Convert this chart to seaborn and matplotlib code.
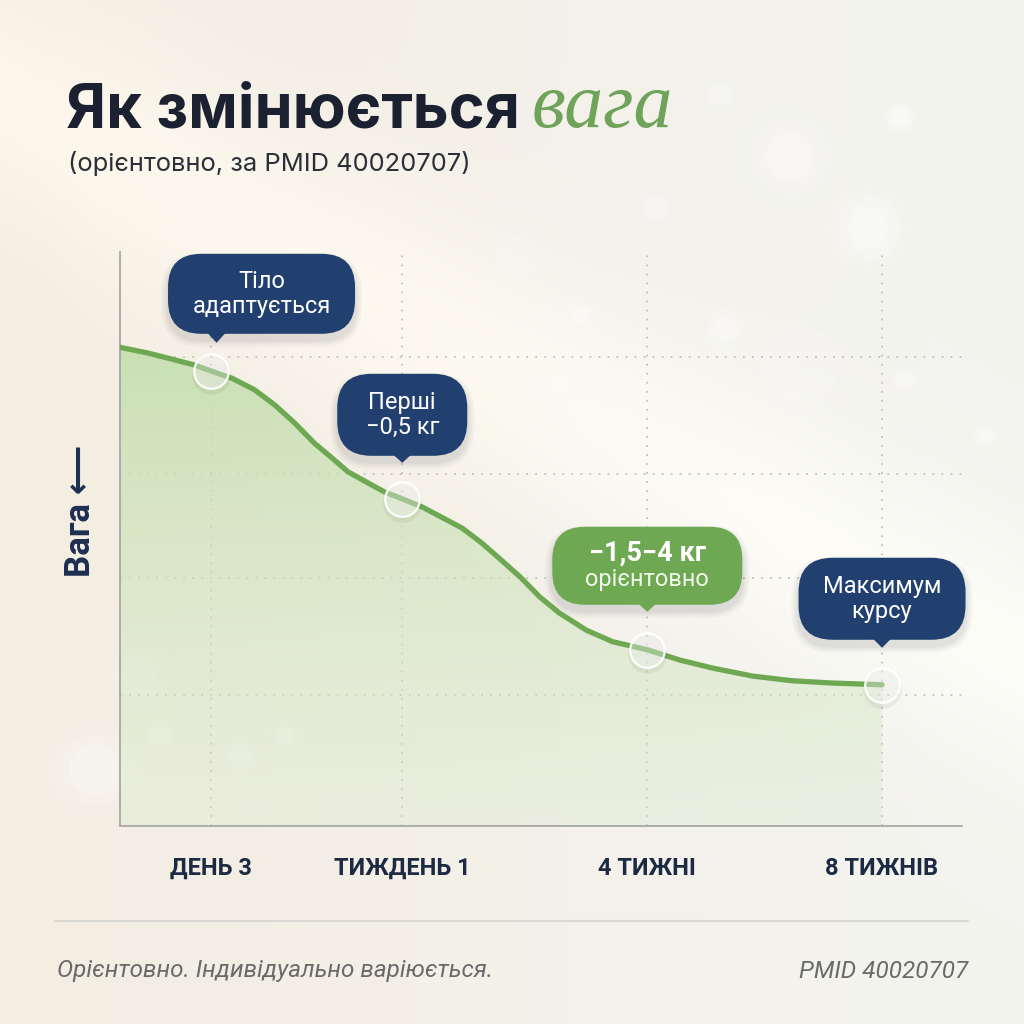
import numpy as np
import matplotlib.pyplot as plt
import matplotlib.transforms as mtransforms
from matplotlib.patches import FancyBboxPatch, Polygon, Circle
from matplotlib.lines import Line2D
import seaborn as sns

# weight curve (x = timeline units, y = relative weight)
curve_x = [0.00, 0.30, 0.59, 0.80, 0.97, 1.20, 1.44, 1.66, 1.87, 2.08, 2.27,
           2.44, 2.65, 2.83, 3.02, 3.23, 3.44, 3.66, 3.87, 4.08, 4.28, 4.49,
           4.70, 4.99, 5.27, 5.64, 5.99, 6.34, 6.77, 7.19, 7.62, 8.15]
curve_y = [83.4, 82.4, 81.2, 80.3, 79.3, 78.0, 76.0, 73.3, 70.2, 66.7, 64.1,
           61.7, 59.8, 58.2, 57.0, 55.6, 53.8, 51.9, 49.3, 46.3, 43.4, 39.9,
           37.1, 34.1, 32.1, 30.7, 28.9, 27.5, 26.1, 25.3, 24.9, 24.6]

# milestones
milestone_x = [0.97, 3.02, 5.64, 8.15]
milestone_y = [79.3, 57.0, 30.7, 24.6]
milestone_labels = ["ДЕНЬ 3", "ТИЖДЕНЬ 1", "4 ТИЖНІ", "8 ТИЖНІВ"]
grid_y = [22.8, 43.2, 61.3, 81.7]

callout_lines = [["Тіло", "адаптується"], ["Перші", "−0,5 кг"],
                 ["−1,5−4 кг", "орієнтовно"], ["Максимум", "курсу"]]

navy = "#22406f"
green = "#6ea852"
dark = "#1b2131"

sns.set_theme(style="white")
plt.rcParams["font.family"] = ["Roboto", "DejaVu Sans"]

fig = plt.figure(figsize=(10.24, 10.24), dpi=100)

# background: warm cream on the left, cooler off-white on the right
bg = fig.add_axes([0, 0, 1, 1], zorder=-10)
yy, xx = np.mgrid[0:1:300j, 0:1:300j]
cream = np.array([0.957, 0.930, 0.884])
cool = np.array([0.955, 0.955, 0.937])
t = np.clip(xx * 1.1, 0, 1)[..., None]
img = cream * (1 - t) + cool * t
# soft diagonal light beam
d = np.abs((yy - 0.12) - 0.55 * (xx - 0.05))
beam = np.exp(-(d / 0.12) ** 2)[..., None] * 0.035
img = np.clip(img + beam, 0, 1)
bg.imshow(img, extent=(0, 1024, 1024, 0), aspect="auto")
bg.set_xlim(0, 1024)
bg.set_ylim(1024, 0)
bg.axis("off")
for bx, by, br, ba in [(790, 157, 24, 0.5), (868, 228, 20, 0.6), (900, 118, 8, 0.7),
                       (655, 207, 12, 0.4), (725, 330, 12, 0.5), (800, 365, 38, 0.25),
                       (580, 315, 8, 0.5), (140, 675, 18, 0.35), (95, 770, 26, 0.45),
                       (240, 755, 10, 0.4), (285, 735, 8, 0.4), (160, 735, 8, 0.4),
                       (520, 255, 20, 0.25), (905, 380, 8, 0.5), (985, 435, 7, 0.5),
                       (720, 95, 10, 0.4), (560, 385, 7, 0.4)]:
    for k in range(4):
        bg.add_patch(Circle((bx, by), br * (1 + 0.35 * k), color="white",
                            alpha=ba / (1.8 + 1.5 * k), lw=0))

# main chart
ax = fig.add_axes([0.117, 0.1934, 0.822, 0.5605])
ax.patch.set_alpha(0)
ax.set_xlim(0, 9)
ax.set_ylim(0, 100)

# gradient fill under the curve
poly = ax.fill_between(curve_x, curve_y, 0, facecolor="none", edgecolor="none")
grad = np.zeros((200, 2, 4))
tt = np.linspace(0, 1, 200)[:, None]
top_c = np.array([0.76, 0.87, 0.67, 0.85])
bot_c = np.array([0.86, 0.92, 0.81, 0.35])
grad[:] = (top_c * (1 - tt) + bot_c * tt)[:, None, :]
gim = ax.imshow(grad, extent=(0, curve_x[-1], 0, max(curve_y)), aspect="auto",
                origin="upper", zorder=1)
gim.set_clip_path(poly.get_paths()[0], transform=ax.transData)

sns.lineplot(x=curve_x, y=curve_y, ax=ax, color=green, linewidth=3.8,
             sort=False, zorder=3, solid_capstyle="round", solid_joinstyle="round")

# glassy milestone markers
ax.scatter(milestone_x, [v - 0.8 for v in milestone_y], s=780, color="black",
           alpha=0.05, lw=0, zorder=4)
ax.scatter(milestone_x, milestone_y, s=620, facecolor=(1, 1, 1, 0.38),
           edgecolor=(1, 1, 1, 0.95), linewidth=1.6, zorder=5)

ax.set_xticks(milestone_x)
ax.set_xticklabels(milestone_labels, fontsize=17, fontweight="bold", color="#1d2a44")
ax.set_yticks(grid_y)
ax.set_yticklabels([])
ax.tick_params(length=0, axis="x", pad=22)
ax.tick_params(length=0, axis="y")
ax.grid(True, linestyle=(0, (1, 4)), color="#c2c2bd", linewidth=1.3)
for s in ["top", "right"]:
    ax.spines[s].set_visible(False)
for s in ["left", "bottom"]:
    ax.spines[s].set_color("#a8a8a4")
    ax.spines[s].set_linewidth(1.3)

# callouts: (box rise, width, height, tip rise, tip dx, colour)
callout_geom = [(77, 187, 80, 28, 6, navy), (84, 130, 82, 36, 0, navy),
                (84, 190, 78, 38, 0, green), (86, 167, 82, 37, 0, navy)]
ident = mtransforms.IdentityTransform()
for (mx, my), lines, (rise, w, h, tip, tdx, fc) in zip(
        zip(milestone_x, milestone_y), callout_lines, callout_geom):
    px, py = ax.transData.transform((mx, my))
    cx = px + (51 if tdx else 0)
    cy = py + rise
    for k, a in enumerate([0.06, 0.05, 0.04]):
        grow = 4 + 5 * k
        fig.add_artist(FancyBboxPatch((cx - w / 2 - grow / 2, cy - h / 2 - 6 - grow / 2),
                                      w + grow, h + grow,
                                      boxstyle=f"round,pad=0,rounding_size={h / 2.4 + grow / 2}",
                                      transform=ident, fc="#40444c", ec="none", alpha=a))
    fig.add_artist(FancyBboxPatch((cx - w / 2, cy - h / 2), w, h,
                                  boxstyle=f"round,pad=0,rounding_size={h / 2.4}",
                                  transform=ident, fc=fc, ec="none"))
    fig.add_artist(Polygon([(px + tdx - 10, cy - h / 2 + 2), (px + tdx + 10, cy - h / 2 + 2),
                            (px + tdx, py + tip)], closed=True, transform=ident,
                           fc=fc, ec="none"))
    if fc == green:
        fig.text(cx, cy + 13, lines[0], transform=ident, ha="center", va="center",
                 fontsize=19.5, fontweight="bold", color="white")
        fig.text(cx, cy - 14, lines[1], transform=ident, ha="center", va="center",
                 fontsize=17, color="#f0f7ea")
    else:
        fig.text(cx, cy + 12, lines[0], transform=ident, ha="center", va="center",
                 fontsize=17, color="white")
        fig.text(cx, cy - 13, lines[1], transform=ident, ha="center", va="center",
                 fontsize=17, color="white")

# y label with arrow
fig.text(80 / 1024, 1 - 511 / 1024, "Вага ⟵", rotation=90, ha="center", va="center",
         fontsize=25, fontweight="bold", color="#1d2e52",
         family=["Roboto", "DejaVu Sans"])

# title
renderer = fig.canvas.get_renderer()
t1 = fig.text(66 / 1024, 1 - 127 / 1024, "Як змінюється", fontsize=44, fontweight="bold",
              color=dark, va="baseline", family=["Inter", "Roboto", "DejaVu Sans"])
ext = t1.get_window_extent(renderer=renderer)
fig.text((ext.x1 + 12) / 1024, 1 - 127 / 1024, "вага", fontsize=56, style="italic",
         family="Liberation Serif", color="#6fa35a", va="baseline")
fig.text(68 / 1024, 1 - 163 / 1024, "(орієнтовно, за PMID 40020707)", fontsize=18.4,
         color="#2b2f38", va="center", family=["Inter", "Roboto", "DejaVu Sans"])

# footer
fig.add_artist(Line2D([55 / 1024, 968 / 1024], [1 - 921 / 1024] * 2, color="#d9d8d2", lw=1.5))
fig.text(57 / 1024, 1 - 971 / 1024, "Орієнтовно. Індивідуально варіюється.", fontsize=17.5,
         style="italic", color="#6a6a6a", va="center")
fig.text(968 / 1024, 1 - 971 / 1024, "PMID 40020707", fontsize=17.5, style="italic",
         color="#6a6a6a", va="center", ha="right")

fig.savefig("out.png", dpi=100)
